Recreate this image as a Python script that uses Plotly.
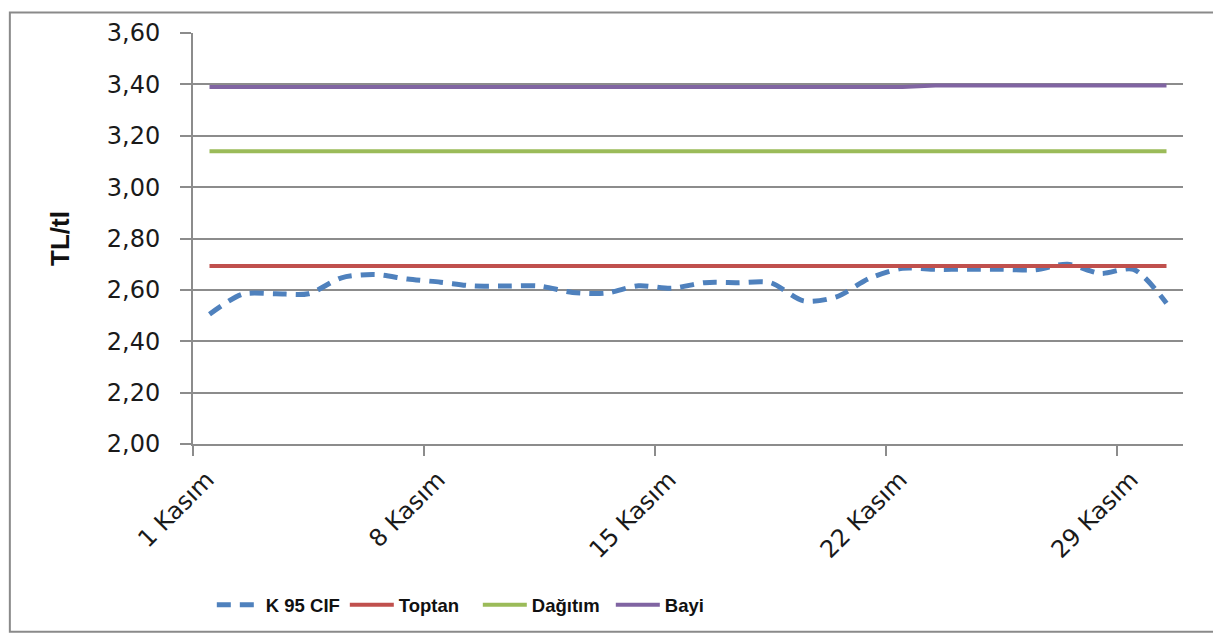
import plotly.graph_objects as go

days = list(range(1, 31))
tick_days = [1, 8, 15, 22, 29]
tick_labels = ["1 Kasım", "8 Kasım", "15 Kasım", "22 Kasım", "29 Kasım"]

k95_cif = [2.505, 2.583, 2.585, 2.585, 2.647, 2.660, 2.642, 2.630, 2.615, 2.615,
           2.615, 2.590, 2.587, 2.616, 2.606, 2.628, 2.628, 2.628, 2.557, 2.573,
           2.645, 2.684, 2.680, 2.680, 2.680, 2.678, 2.700, 2.664, 2.680, 2.548]
toptan = [2.693] * 30
dagitim = [3.140] * 30
bayi = [3.390] * 22 + [3.396] * 8

GRID = "#8c8c8c"
font_ticks = dict(family="DejaVu Sans", size=24, color="#1a1a1a")

fig = go.Figure()
fig.add_trace(go.Scatter(x=days, y=k95_cif, name="K 95 CIF", mode="lines",
                         line=dict(color="#4F81BD", width=5, dash="14px,9px",
                                   shape="spline", smoothing=0.8)))
fig.add_trace(go.Scatter(x=days, y=toptan, name="Toptan", mode="lines",
                         line=dict(color="#C0504D", width=4)))
fig.add_trace(go.Scatter(x=days, y=dagitim, name="Dağıtım", mode="lines",
                         line=dict(color="#9BBB59", width=4)))
fig.add_trace(go.Scatter(x=days, y=bayi, name="Bayi", mode="lines",
                         line=dict(color="#8064A2", width=4)))

fig.update_layout(
    width=1213, height=635,
    margin=dict(l=185, r=38, t=25, b=199),
    paper_bgcolor="white", plot_bgcolor="white",
    showlegend=True,
    legend=dict(orientation="h", x=0.019, xanchor="left", y=-0.392, yanchor="middle",
                font=dict(family="Liberation Sans", size=18.5, color="#111111", weight="bold"),
                entrywidth=74, itemwidth=44, bgcolor="rgba(0,0,0,0)"),
    xaxis=dict(range=[0.5, 30.5], tickvals=[d - 0.5 for d in tick_days], ticktext=tick_labels,
               tickangle=-45, ticks="outside", ticklen=10, tickwidth=2, tickcolor=GRID,
               showline=True, linecolor=GRID, linewidth=2, showgrid=False, zeroline=False,
               tickfont=font_ticks, ticklabelshift=14, ticklabelstandoff=0),
    yaxis=dict(range=[2.0, 3.6], tickvals=[2.0 + 0.2 * i for i in range(9)],
               ticktext=["2,00", "2,20", "2,40", "2,60", "2,80", "3,00", "3,20", "3,40", "3,60"],
               ticks="outside", ticklen=11, tickwidth=2, tickcolor=GRID,
               showline=True, linecolor=GRID, linewidth=2,
               showgrid=True, gridcolor=GRID, gridwidth=2, zeroline=False,
               tickfont=font_ticks, ticklabelstandoff=15,
               title=dict(text="TL/tl", standoff=30,
                          font=dict(family="Liberation Sans", size=26, color="#111111", weight="bold"))),
)

fig.add_shape(type="rect", xref="paper", yref="paper",
              x0=-0.185, x1=1.07, y0=-0.457, y1=1.05,
              line=dict(color="#8a8a8a", width=2), layer="above")

fig.write_html("out.html")
